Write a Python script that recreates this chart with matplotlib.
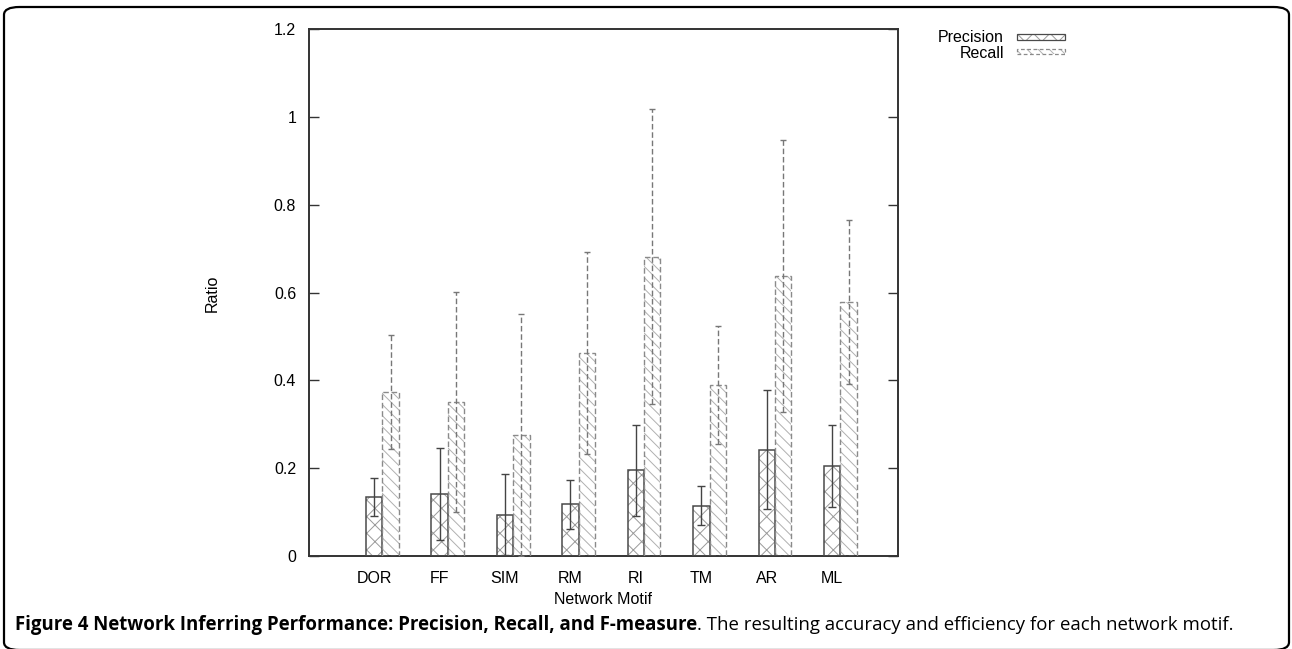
import matplotlib
matplotlib.use('Agg')
import matplotlib.pyplot as plt
from matplotlib.patches import Rectangle, FancyBboxPatch
import numpy as np

# ---------------- data ----------------
motifs = ['DOR', 'FF', 'SIM', 'RM', 'RI', 'TM', 'AR', 'ML']
precision = [0.135, 0.141, 0.094, 0.118, 0.195, 0.115, 0.242, 0.205]
precision_err = [0.043, 0.105, 0.092, 0.056, 0.104, 0.044, 0.136, 0.094]
recall = [0.374, 0.351, 0.276, 0.462, 0.682, 0.389, 0.637, 0.578]
recall_err = [0.130, 0.250, 0.275, 0.230, 0.336, 0.135, 0.310, 0.187]
yticks = [0, 0.2, 0.4, 0.6, 0.8, 1.0, 1.2]
ytick_labels = ['0', '0.2', '0.4', '0.6', '0.8', '1', '1.2']
series_names = ['Precision', 'Recall']
xlabel = 'Network Motif'
ylabel = 'Ratio'
caption_bold = 'Figure 4 Network Inferring Performance: Precision, Recall, and F-measure'
caption_rest = '. The resulting accuracy and efficiency for each network motif.'

# ---------------- style ----------------
W, H = 1292, 649
DPI = 100
plt.rcParams['font.family'] = ['Liberation Sans', 'DejaVu Sans']
plt.rcParams['hatch.linewidth'] = 0.7

fig = plt.figure(figsize=(W / DPI, H / DPI), dpi=DPI)
ax = fig.add_axes([308.7 / W, 1 - 556 / H, (897.7 - 308.7) / W, (556 - 29.2) / H])

x = np.arange(1, len(motifs) + 1)
bw = 0.25
prec_edge = '#4a4a4a'
prec_hatch = '#9a9a9a'
rec_edge = '#8a8a8a'
rec_hatch = '#b0b0b0'

# precision bars: hatch layer + outline
ax.bar(x, precision, bw, fill=False, hatch='xx', edgecolor=prec_hatch, linewidth=0, zorder=2)
ax.bar(x, precision, bw, fill=False, edgecolor=prec_edge, linewidth=1.1, zorder=3)
# recall bars
ax.bar(x + bw, recall, bw, fill=False, hatch='\\\\\\', edgecolor=rec_hatch, linewidth=0, zorder=2)
ax.bar(x + bw, recall, bw, fill=False, edgecolor=rec_edge, linewidth=1.0,
       linestyle=(0, (4, 2)), zorder=3)

# error bars
eb1 = ax.errorbar(x, precision, yerr=precision_err, fmt='none', ecolor='#444444',
                  elinewidth=1.0, capsize=2.8, capthick=1.0, zorder=4)
eb2 = ax.errorbar(x + bw, recall, yerr=recall_err, fmt='none', ecolor='#777777',
                  elinewidth=1.0, capsize=2.0, capthick=1.0, zorder=4)
for lc in eb2[2]:
    lc.set_linestyle((0, (4, 2)))

ax.set_xlim(0, 9)
ax.set_ylim(0, 1.2)
ax.set_yticks(yticks)
ax.set_yticklabels(ytick_labels)
ax.set_xticks(x)
ax.set_xticklabels(motifs)
ax.tick_params(axis='y', direction='in', length=7, width=1.0, right=True, left=True,
               labelsize=11.5, pad=9, color='#333333')
ax.tick_params(axis='x', length=0, labelsize=11.5, pad=11)
for s in ax.spines.values():
    s.set_color('#333333')
    s.set_linewidth(1.4)

fig.text(212 / W, 1 - 293 / H, ylabel, rotation=90, ha='center', va='center', fontsize=11.5)
fig.text(603 / W, 1 - 599 / H, xlabel, ha='center', va='center', fontsize=11.5)

# legend (gnuplot style, outside axes)
def fx(px):
    return px / W

def fy(py):
    return 1 - py / H

fig.text(fx(1004), fy(38), series_names[0], ha='right', va='center', fontsize=11.5)
fig.text(fx(1004), fy(53), series_names[1], ha='right', va='center', fontsize=11.5)
r1h = Rectangle((fx(1017), fy(39.5)), fx(1065) - fx(1017), fy(34) - fy(39.5), transform=fig.transFigure,
                fill=False, hatch='xx', edgecolor=prec_hatch, linewidth=0)
r1 = Rectangle((fx(1017), fy(39.5)), fx(1065) - fx(1017), fy(34) - fy(39.5), transform=fig.transFigure,
               fill=False, edgecolor=prec_edge, linewidth=0.9)
r2h = Rectangle((fx(1017), fy(54)), fx(1065) - fx(1017), fy(48.5) - fy(54), transform=fig.transFigure,
                fill=False, hatch='\\\\\\', edgecolor=rec_hatch, linewidth=0)
r2 = Rectangle((fx(1017), fy(54)), fx(1065) - fx(1017), fy(48.5) - fy(54), transform=fig.transFigure,
               fill=False, edgecolor=rec_edge, linewidth=0.9, linestyle=(0, (3, 2)))
for r in (r1h, r1, r2h, r2):
    fig.add_artist(r)

# frame around the figure
frame = FancyBboxPatch((fx(4), fy(650)), fx(1289) - fx(4), fy(7) - fy(650),
                       boxstyle='round,pad=0,rounding_size=0.012', transform=fig.transFigure,
                       fill=False, edgecolor='black', linewidth=1.6)
fig.add_artist(frame)

# caption: fit the text to the reference caption width
cap_font = ['Open Sans', 'DejaVu Sans']
cap_x0, cap_x1, cap_base = 15, 1242, 630
size = 11.2
renderer = fig.canvas.get_renderer()
t1 = fig.text(fx(cap_x0), fy(cap_base), caption_bold, ha='left', va='baseline', fontsize=size,
              fontweight='bold', family=cap_font)
t2 = fig.text(0, fy(cap_base), caption_rest, ha='left', va='baseline', fontsize=size,
              family=cap_font)
for _ in range(3):
    bb1 = t1.get_window_extent(renderer)
    t2.set_x(bb1.x1 / W)
    bb2 = t2.get_window_extent(renderer)
    total = bb2.x1 - bb1.x0
    size = size * (cap_x1 - cap_x0) / total
    t1.set_fontsize(size)
    t2.set_fontsize(size)
bb1 = t1.get_window_extent(renderer)
t2.set_x(bb1.x1 / W)

fig.savefig('out.png', dpi=DPI)
